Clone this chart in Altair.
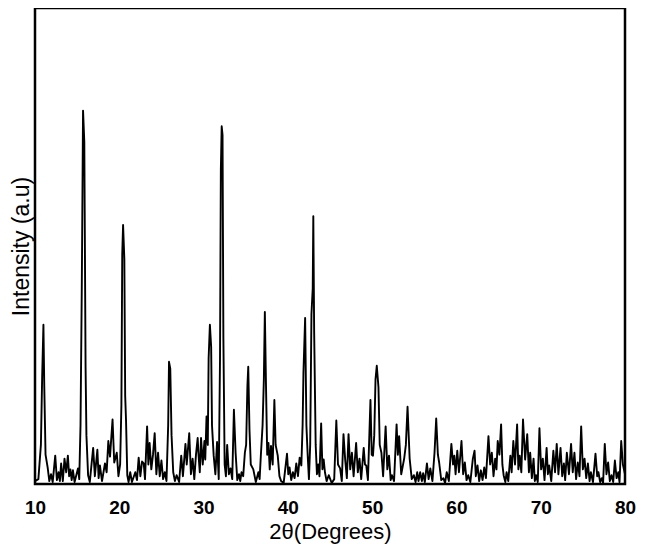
import altair as alt
import pandas as pd

two_theta = [
    10.0, 10.4, 10.7, 10.85, 11.0, 11.1, 11.25, 11.5, 11.7, 11.9, 12.1, 12.4, 12.6, 12.8, 12.95,
    13.1, 13.3, 13.5, 13.7, 13.9, 14.05, 14.2, 14.35, 14.5, 14.7, 15.1, 15.25, 15.4, 15.55, 15.7,
    15.85, 16.0, 16.1, 16.3, 16.5, 16.9, 17.1, 17.4, 17.55, 17.7, 17.95, 18.3, 18.5, 18.7, 18.9,
    19.2, 19.4, 19.7, 19.9, 20.1, 20.25, 20.35, 20.45, 20.6, 20.7, 20.8, 20.95, 21.1, 21.3, 21.5,
    21.9, 22.1, 22.3, 22.5, 22.7, 22.9, 23.05, 23.3, 23.45, 23.6, 23.8, 24.0, 24.2, 24.4, 24.6,
    24.8, 25.0, 25.2, 25.4, 25.6, 25.8, 25.9, 26.05, 26.2, 26.4, 26.6, 26.8, 27.1, 27.35, 27.55,
    27.85, 28.0, 28.3, 28.5, 28.7, 28.9, 29.1, 29.3, 29.4, 29.55, 29.7, 29.9, 30.1, 30.2, 30.35,
    30.5, 30.6, 30.75, 30.9, 31.0, 31.2, 31.4, 31.6, 31.8, 31.95, 32.05, 32.15, 32.25, 32.35, 32.5,
    32.65, 32.8, 33.0, 33.2, 33.4, 33.6, 33.8, 34.0, 34.2, 34.35, 34.5, 34.7, 34.9, 35.05, 35.2,
    35.3, 35.45, 35.6, 35.9, 36.2, 36.5, 36.65, 36.8, 37.0, 37.15, 37.27, 37.4, 37.55, 37.7, 37.85,
    38.0, 38.2, 38.4, 38.55, 38.8, 39.0, 39.2, 39.5, 39.9, 40.05, 40.2, 40.4, 40.6, 40.8, 41.0,
    41.2, 41.4, 41.6, 41.75, 41.85, 42.05, 42.2, 42.35, 42.5, 42.65, 42.8, 42.95, 43.02, 43.12, 43.3,
    43.45, 43.6, 43.75, 43.95, 44.1, 44.25, 44.4, 44.6, 44.85, 45.2, 45.5, 45.75, 45.95, 46.2, 46.4,
    46.6, 46.8, 47.0, 47.2, 47.4, 47.6, 47.8, 48.1, 48.3, 48.5, 48.7, 49.0, 49.15, 49.3, 49.5,
    49.8, 49.95, 50.1, 50.25, 50.4, 50.55, 50.75, 50.9, 51.1, 51.3, 51.6, 51.8, 52.0, 52.2, 52.35,
    52.6, 52.9, 53.05, 53.2, 53.45, 53.8, 54.0, 54.2, 54.45, 54.7, 54.95, 55.15, 55.35, 55.5, 55.7,
    55.9, 56.05, 56.25, 56.5, 56.7, 56.9, 57.15, 57.4, 57.6, 57.8, 57.95, 58.2, 58.45, 58.65, 58.85,
    59.1, 59.4, 59.6, 59.75, 59.9, 60.1, 60.3, 60.6, 60.8, 61.0, 61.2, 61.4, 61.65, 61.95, 62.15,
    62.3, 62.5, 62.7, 62.9, 63.1, 63.3, 63.5, 63.8, 64.0, 64.2, 64.4, 64.6, 64.75, 64.9, 65.1,
    65.3, 65.45, 65.6, 65.8, 65.95, 66.15, 66.4, 66.55, 66.75, 66.95, 67.2, 67.35, 67.5, 67.7, 67.9,
    68.15, 68.4, 68.6, 68.75, 68.95, 69.15, 69.3, 69.45, 69.65, 69.85, 70.05, 70.25, 70.45, 70.7, 70.85,
    71.0, 71.25, 71.5, 71.7, 71.9, 72.1, 72.35, 72.55, 72.75, 72.9, 73.1, 73.35, 73.6, 73.8, 74.0,
    74.2, 74.4, 74.6, 74.8, 75.0, 75.2, 75.4, 75.6, 75.8, 75.95, 76.2, 76.5, 76.7, 76.85, 77.05,
    77.25, 77.4, 77.6, 77.8, 78.0, 78.2, 78.4, 78.6, 78.8, 79.0, 79.2, 79.35, 79.55, 79.75, 80.0,
]

intensity = [
    3, 5, 40, 110, 163, 100, 30, 17, 3, 10, 2, 29, 4, 12, 3,
    21, 3, 26, 12, 29, 8, 15, 4, 14, 2, 16, 5, 60, 200, 382,
    350, 120, 50, 9, 2, 37, 8, 35, 6, 19, 3, 21, 12, 44, 28,
    66, 22, 32, 8, 20, 80, 235, 265, 230, 90, 65, 9, 2, 12, 2,
    12, 4, 27, 8, 23, 21, 5, 59, 20, 42, 15, 30, 52, 10, 32,
    8, 24, 5, 12, 3, 60, 125, 118, 50, 12, 3, 9, 2, 29, 8,
    41, 20, 52, 10, 26, 5, 30, 47, 30, 12, 47, 20, 44, 25, 69,
    40, 129, 163, 140, 60, 29, 10, 43, 5, 127, 322, 366, 357, 150, 20,
    8, 40, 10, 16, 5, 76, 32, 4, 10, 3, 12, 8, 32, 40, 100,
    120, 55, 20, 15, 2, 12, 5, 30, 60, 106, 176, 104, 30, 42, 15,
    39, 20, 86, 40, 29, 8, 3, 1, 31, 10, 17, 4, 12, 6, 21,
    8, 27, 19, 60, 114, 170, 60, 30, 5, 40, 174, 200, 274, 156, 40,
    10, 20, 8, 62, 15, 25, 12, 3, 9, 1, 5, 65, 20, 16, 3,
    51, 25, 6, 51, 15, 32, 8, 42, 12, 26, 5, 37, 20, 19, 4,
    86, 30, 29, 50, 107, 121, 99, 40, 32, 8, 59, 15, 29, 4, 9,
    3, 61, 30, 49, 10, 26, 40, 79, 26, 5, 9, 2, 12, 3, 12,
    3, 11, 2, 21, 5, 16, 3, 32, 67, 30, 22, 4, 6, 1, 12,
    3, 41, 20, 29, 10, 34, 12, 44, 10, 22, 4, 9, 2, 26, 34,
    8, 19, 3, 14, 4, 17, 6, 49, 20, 32, 8, 26, 15, 44, 30,
    61, 20, 9, 2, 12, 3, 29, 12, 44, 20, 61, 15, 29, 12, 66,
    25, 51, 12, 32, 6, 26, 3, 9, 2, 57, 15, 26, 4, 37, 10,
    19, 3, 34, 12, 41, 10, 37, 8, 21, 4, 32, 10, 41, 12, 32,
    5, 22, 8, 59, 15, 26, 6, 21, 3, 12, 2, 31, 8, 12, 2,
    6, 1, 41, 10, 22, 3, 9, 2, 24, 6, 12, 2, 44, 20, 10,
]

x_ticks = [10, 20, 30, 40, 50, 60, 70, 80]

df = pd.DataFrame({"two_theta": two_theta, "intensity": intensity})

font = "Liberation Sans"

chart = (
    alt.Chart(df)
    .mark_line(color="black", strokeWidth=1.9, strokeJoin="round")
    .encode(
        x=alt.X(
            "two_theta:Q",
            scale=alt.Scale(domain=[10, 80], nice=False, zero=False),
            axis=alt.Axis(
                title="2θ(Degrees)",
                values=x_ticks,
                format="d",
                grid=False,
                ticks=False,
                tickSize=0,
                domain=False,
                labelFont=font,
                labelFontSize=19,
                labelFontWeight="bold",
                labelColor="black",
                labelPadding=14,
                labelFlush=False,
                titleFont=font,
                titleFontSize=22,
                titleFontWeight="normal",
                titleColor="black",
                titlePadding=4,
            ),
        ),
        y=alt.Y(
            "intensity:Q",
            scale=alt.Scale(domain=[0, 487], nice=False),
            axis=alt.Axis(
                title="Intensity (a.u)",
                labels=False,
                ticks=False,
                tickSize=0,
                grid=False,
                domain=False,
                titleFont=font,
                titleFontSize=23,
                titleFontWeight="normal",
                titleColor="black",
                titlePadding=2,
            ),
        ),
    )
    .properties(
        width=590,
        height=476,
        autosize=alt.AutoSizeParams(type="none"),
        padding={"left": 27, "top": 0, "right": 12, "bottom": 60},
        background="white",
    )
    .configure_view(stroke="black", strokeWidth=2.5)
)

chart.save("out.html", embed_options={"renderer": "svg", "actions": False})
